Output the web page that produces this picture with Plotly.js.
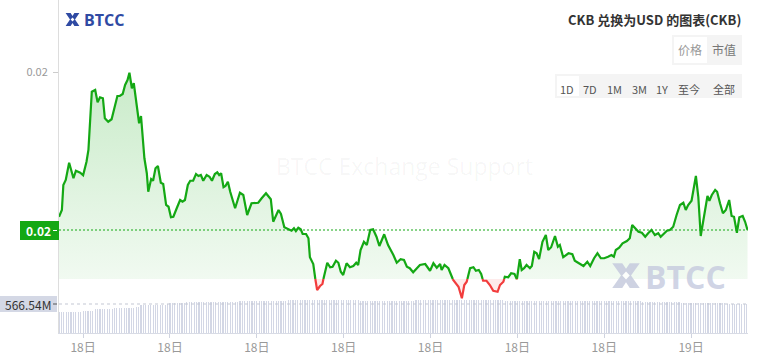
<!DOCTYPE html>
<html>
<head>
<meta charset="utf-8">
<script src="https://cdn.plot.ly/plotly-3.0.1.min.js"></script>
<style>html,body{margin:0;padding:0;background:#fff;}#chart{width:764px;height:363px;}</style>
</head>
<body>
<div id="chart"></div>
<script>
// ---------- data ----------
const CHART_TITLE = 'CKB 兑换为USD 的图表(CKB)';
const START_TIME = Date.UTC(2025, 2, 18, 2, 10); // 18日 02:10
const END_MINUTE = 1428;
const BASE_PRICE = 0.016172;      // fill baseline
const CURRENT_PRICE = 0.016368;   // last price
const CURRENT_VOLUME = 566.54;    // last volume (M)
const PRICE_TICKS = [0.017];
const TICK_MINUTES = [50, 230, 410, 590, 770, 950, 1130, 1310];
const VOLUME_STEP_MIN = 5;

const priceMinutes = [
  0,6,9,14,21,30,35,44,50,57,
  61,68,75,80,85,91,95,102,109,115,
  121,126,132,137,142,146,151,155,163,166,
  170,177,182,185,191,195,200,205,211,216,
  222,227,232,237,244,251,256,261,267,272,
  278,284,289,294,299,306,312,317,323,328,
  332,336,341,345,350,355,365,375,382,390,
  399,406,413,420,429,439,444,455,460,467,
  475,482,487,491,496,501,505,512,517,520,
  527,531,535,541,546,551,556,562,567,574,
  579,584,589,596,603,610,616,620,625,632,
  638,645,651,658,664,674,682,693,700,708,
  715,721,727,734,748,759,769,776,783,790,
  793,799,807,817,828,835,840,845,852,859,
  864,870,875,879,886,893,900,909,914,921,
  924,931,937,944,949,955,959,964,969,976,
  980,985,990,995,1002,1009,1014,1020,1028,1034,
  1038,1045,1056,1064,1069,1076,1083,1087,1095,1101,
  1109,1116,1123,1130,1138,1145,1150,1154,1161,1168,
  1177,1183,1188,1194,1201,1208,1215,1221,1228,1235,
  1242,1247,1254,1260,1266,1273,1280,1287,1294,1299,
  1304,1311,1320,1325,1330,1337,1344,1348,1353,1360,
  1364,1370,1376,1382,1389,1394,1399,1405,1410,1417,
  1422,1427
];
const priceValues = [
  0.016421,0.016448,0.016548,0.016568,0.016637,0.016575,0.016605,0.016597,0.016587,0.016641,
  0.016688,0.016921,0.016928,0.016879,0.016899,0.016895,0.016815,0.016801,0.016811,0.016861,
  0.016904,0.016904,0.016912,0.016948,0.016968,0.016997,0.016935,0.016955,0.016828,0.016795,
  0.016824,0.016655,0.016595,0.016521,0.016572,0.016565,0.016615,0.016624,0.016557,0.016552,
  0.016468,0.016461,0.016419,0.016421,0.016455,0.016488,0.016481,0.016488,0.016548,0.016565,
  0.016565,0.016592,0.016584,0.016588,0.016565,0.016588,0.016581,0.016565,0.016592,0.016599,
  0.016588,0.016595,0.016539,0.016544,0.016561,0.016520,0.016455,0.016517,0.016508,0.016428,
  0.016475,0.016477,0.016477,0.016495,0.016515,0.016491,0.016401,0.016448,0.016432,0.016379,
  0.016371,0.016365,0.016375,0.016364,0.016377,0.016371,0.016352,0.016352,0.016335,0.016259,
  0.016232,0.016175,0.016128,0.016144,0.016152,0.016201,0.016237,0.016219,0.016221,0.016245,
  0.016237,0.016201,0.016188,0.016235,0.016219,0.016224,0.016237,0.016228,0.016288,0.016321,
  0.016308,0.016368,0.016371,0.016341,0.016304,0.016351,0.016308,0.016268,0.016237,0.016251,
  0.016248,0.016221,0.016215,0.016199,0.016228,0.016232,0.016205,0.016235,0.016217,0.016232,
  0.016208,0.016228,0.016215,0.016168,0.016141,0.016095,0.016148,0.016161,0.016215,0.016219,
  0.016205,0.016208,0.016192,0.016165,0.016165,0.016148,0.016125,0.016121,0.016148,0.016161,
  0.016181,0.016179,0.016195,0.016192,0.016171,0.016251,0.016208,0.016215,0.016228,0.016215,
  0.016224,0.016281,0.016275,0.016252,0.016321,0.016348,0.016288,0.016299,0.016344,0.016301,
  0.016308,0.016259,0.016275,0.016271,0.016245,0.016237,0.016232,0.016224,0.016241,0.016224,
  0.016255,0.016275,0.016255,0.016255,0.016261,0.016268,0.016261,0.016288,0.016297,0.016315,
  0.016324,0.016335,0.016388,0.016375,0.016361,0.016357,0.016341,0.016355,0.016368,0.016348,
  0.016355,0.016341,0.016355,0.016365,0.016368,0.016381,0.016428,0.016468,0.016477,0.016448,
  0.016468,0.016485,0.016584,0.016501,0.016344,0.016421,0.016504,0.016485,0.016508,0.016528,
  0.016521,0.016475,0.016435,0.016448,0.016488,0.016424,0.016421,0.016357,0.016419,0.016424,
  0.016401,0.016368
];
// volume (millions), one bar every 5 minutes
const volumeValues = [
  415,415,416,416,417,417,418,418,419,420,
  428,430,431,432,433,
  462,465,467,469,470,471,472,473,
  490,491,492,493,494,495,496,497,498,499,500,
  540,542,544,546,547,548,549,550,552,553,555,
  575,577,579,580,581,582,583,
  595,596,597,598,598,599,600,600,601,601,602,602,603,603,604,604,605,605,606,606,607,
  615,615,616,616,617,617,618,618,619,619,620,620,621,621,622,622,623,623,624,624,625,625,
  640,641,641,642,642,643,643,644,644,645,645,646,646,646,647,647,647,648,648,648,648,647,647,646,646,645,644,643,642,641,
  632,631,630,630,629,629,628,628,628,629,629,630,630,631,631,632,632,633,633,634,
  634,635,635,636,636,636,637,637,637,638,638,638,638,639,639,639,639,640,640,640,
  640,640,641,641,641,641,640,640,640,639,639,639,638,638,638,637,637,636,636,636,
  635,635,635,634,634,634,633,633,633,632,632,632,632,631,631,631,631,630,630,630,
  630,630,629,629,629,629,628,628,628,628,627,627,627,627,626,626,626,626,625,625,
  625,625,624,624,624,
  623,622,622,621,620,620,619,618,618,617,616,616,615,614,614,613,612,612,611,610,610,609,608,607,606,605,604,603,
  595,594,593,592,591,590,589,588,587,586,585,584,583,582,581,580,579,578,577,576,575,574,573,572,571,570,568,566.54
];

// ---------- helpers ----------
function ts(min){ return new Date(START_TIME + min*60000).toISOString().replace('T',' ').slice(0,19); }
const L = 59, R = 748, B = 333, T = 0;
const PX = px => (px - L) / (R - L);
const PY = py => (B - py) / (B - T);

// split line at baseline crossings
const aug = [];
for (let i = 0; i < priceMinutes.length; i++) {
  const a = {m: priceMinutes[i], p: priceValues[i]};
  aug.push(a);
  if (i < priceMinutes.length - 1) {
    const b = {m: priceMinutes[i+1], p: priceValues[i+1]};
    if ((a.p - BASE_PRICE) * (b.p - BASE_PRICE) < 0) {
      const t = (BASE_PRICE - a.p) / (b.p - a.p);
      aug.push({m: a.m + t*(b.m - a.m), p: BASE_PRICE});
    }
  }
}
const ax = aug.map(q => ts(q.m));
const greenY = aug.map(q => q.p >= BASE_PRICE ? q.p : null);
const redY = aug.map(q => q.p <= BASE_PRICE ? q.p : null);
const fillUp = aug.map(q => Math.max(q.p, BASE_PRICE));
const fillDown = aug.map(q => Math.min(q.p, BASE_PRICE));
const baseX = [ax[0], ax[ax.length-1]];
const volX = volumeValues.map((v, i) => ts(i * VOLUME_STEP_MIN));

const GREEN = '#14a814', RED = '#f23c3c';
const FONT = 'Noto Sans CJK SC, Noto Sans, sans-serif';

const traces = [
  {type:'bar', x: volX, y: volumeValues, yaxis:'y2', width: 2.4*60000,
   marker:{color:'#d3d7e5', line:{width:0}}, hoverinfo:'skip'},
  {type:'scatter', mode:'lines', x: baseX, y:[BASE_PRICE, BASE_PRICE], line:{width:0}, hoverinfo:'skip'},
  {type:'scatter', mode:'lines', x: ax, y: fillUp, fill:'tonexty', line:{width:0},
   fillcolor:'rgba(20,168,20,0.12)',
   fillgradient:{type:'vertical', start: BASE_PRICE, stop: 0.0170,
     colorscale:[[0,'rgba(20,168,20,0.06)'],[1,'rgba(20,168,20,0.23)']]},
   hoverinfo:'skip'},
  {type:'scatter', mode:'lines', x: baseX, y:[BASE_PRICE, BASE_PRICE], line:{width:0}, hoverinfo:'skip'},
  {type:'scatter', mode:'lines', x: ax, y: fillDown, fill:'tonexty', line:{width:0},
   fillcolor:'rgba(242,60,60,0.10)', hoverinfo:'skip'},
  {type:'scatter', mode:'lines', x: ax, y: greenY, connectgaps:false, line:{color:GREEN, width:2.2}},
  {type:'scatter', mode:'lines', x: ax, y: redY, connectgaps:false, line:{color:RED, width:2.2}}
];

const svgIcon = c => 'data:image/svg+xml;utf8,' + encodeURIComponent(
  '<svg xmlns="http://www.w3.org/2000/svg" viewBox="0 0 24 24" preserveAspectRatio="none">' +
  '<path d="M1 1 L9 1 L12 6 L15 1 L23 1 L16 12 L23 23 L15 23 L12 18 L9 23 L1 23 L8 12 Z" fill="'+c+'"/>' +
  '<path d="M12 8.5 L15 12 L12 15.5 L9 12 Z" fill="#fff"/>' +
  '</svg>');

const shapes = [
  {type:'line', xref:'paper', x0:0, x1:1, yref:'y', y0:CURRENT_PRICE, y1:CURRENT_PRICE,
   line:{color:GREEN, width:1.2, dash:'2px,2px'}},
  {type:'line', xref:'paper', x0:0, x1:1, yref:'y2', y0:CURRENT_VOLUME, y1:CURRENT_VOLUME,
   line:{color:'#c3c7d3', width:1, dash:'3px,3px'}},
  {type:'rect', xref:'paper', yref:'paper', x0:PX(20), x1:PX(59), y0:PY(240), y1:PY(221),
   fillcolor:GREEN, line:{width:0}},
  {type:'rect', xref:'paper', yref:'paper', x0:PX(0), x1:PX(57), y0:PY(312), y1:PY(296),
   fillcolor:'#d4d8e5', line:{width:0}},
  {type:'line', xref:'paper', yref:'paper', x0:PX(53), x1:PX(57), y0:PY(304), y1:PY(304),
   line:{color:'#555', width:1}},
  {type:'line', xref:'paper', yref:'paper', x0:PX(53), x1:PX(57), y0:PY(230.5), y1:PY(230.5),
   line:{color:'#fff', width:1}},
  // button groups
  {type:'rect', xref:'paper', yref:'paper', x0:PX(672), x1:PX(742), y0:PY(65), y1:PY(35),
   fillcolor:'#f4f4f4', line:{width:0}},
  {type:'rect', xref:'paper', yref:'paper', x0:PX(674), x1:PX(707), y0:PY(63), y1:PY(37),
   fillcolor:'#ffffff', line:{width:0}},
  {type:'rect', xref:'paper', yref:'paper', x0:PX(555), x1:PX(742), y0:PY(98), y1:PY(74),
   fillcolor:'#f4f4f4', line:{width:0}},
  {type:'rect', xref:'paper', yref:'paper', x0:PX(557), x1:PX(579), y0:PY(96), y1:PY(76),
   fillcolor:'#ffffff', line:{width:0}}
];

const ann = (text, px, py, opts) => Object.assign({
  text, xref:'paper', yref:'paper', x:PX(px), y:PY(py), showarrow:false,
  xanchor:'center', yanchor:'middle', font:{family:FONT, size:11, color:'#555'}
}, opts || {});

const rangeButtons = [['1D',567],['7D',590],['1M',614],['3M',639],['1Y',662],['至今',689],['全部',724]];

const annotations = [
  ann('BTCC Exchange Support', 404, 166, {font:{family:'Open Sans, sans-serif', size:23, color:'rgba(0,0,0,0.045)'}}),
  ann('BTCC', 643, 276, {xanchor:'left', font:{family:'Open Sans, sans-serif', size:32, weight:'bold', color:'rgba(196,201,222,0.8)'}}),
  ann('BTCC', 82, 20, {xanchor:'left', font:{family:'Open Sans, sans-serif', size:16, weight:'bold', color:'#2f4aa3'}}),
  ann(CHART_TITLE, 743, 19, {xanchor:'right', font:{family:FONT, size:13, weight:'bold', color:'#333'}}),
  ann('价格', 690, 50, {font:{family:FONT, size:12, color:'#999'}}),
  ann('市值', 724, 50, {font:{family:FONT, size:12, color:'#777'}}),
  ann(CURRENT_PRICE.toFixed(2), 38.5, 230.5, {font:{family:FONT, size:12, weight:'bold', color:'#fff'}}),
  ann(CURRENT_VOLUME.toFixed(2) + 'M', 28.5, 304, {font:{family:FONT, size:12, color:'#333'}})
].concat(rangeButtons.map(b => ann(b[0], b[1], 89, {font:{family:FONT, size:11, color:'#555'}})));

const images = [
  {source: svgIcon('#2f4aa3'), xref:'paper', yref:'paper', x:PX(65), y:PY(12.5), sizex:15/(R-L), sizey:14/(B-T),
   xanchor:'left', yanchor:'top', sizing:'stretch', layer:'above'},
  {source: svgIcon('#c6cbde'), xref:'paper', yref:'paper', x:PX(611), y:PY(262), sizex:30/(R-L), sizey:27/(B-T),
   xanchor:'left', yanchor:'top', sizing:'stretch', layer:'above', opacity:0.85}
];

const layout = {
  width:764, height:363,
  margin:{l:L, r:764-R, t:T, b:363-B, pad:0},
  paper_bgcolor:'#fff', plot_bgcolor:'#fff',
  showlegend:false, bargap:0,
  font:{family:FONT},
  xaxis:{type:'date', range:[ts(0), ts(END_MINUTE)], tickvals: TICK_MINUTES.map(ts), tickformat:'%d日',
    ticks:'outside', ticklen:4, tickcolor:'#cfd3df', showline:true, linecolor:'#d8dbe5', linewidth:1,
    showgrid:false, zeroline:false, tickfont:{family:FONT, size:12, color:'#999'}, fixedrange:true},
  yaxis:{range:[0.015956, 0.017288], tickvals: PRICE_TICKS, tickformat:'.2f',
    ticks:'outside', ticklen:5, tickcolor:'#ccc', showline:true, linecolor:'#dddddd', linewidth:1,
    showgrid:false, zeroline:false, tickfont:{family:FONT, size:11, color:'#999'}, ticklabelstandoff:3},
  yaxis2:{overlaying:'y', range:[0, CURRENT_VOLUME*333/29], visible:false, showgrid:false, zeroline:false},
  shapes, annotations, images
};

Plotly.newPlot('chart', traces, layout, {staticPlot:true, displayModeBar:false});
</script>
</body>
</html>
